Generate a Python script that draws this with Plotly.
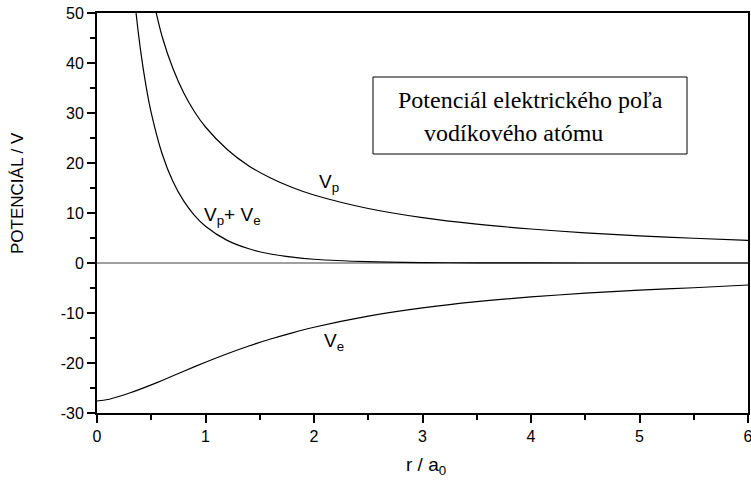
import plotly.graph_objects as go

# r / a0 sample points and potentials (V)
r_p = [0.5, 0.6, 0.7, 0.8, 0.9, 1.0, 1.2, 1.4, 1.6, 1.8, 2.0, 2.5, 3.0, 3.5, 4.0, 4.5, 5.0, 5.5, 6.0]
v_p = [54.4, 45.3, 38.9, 34.0, 30.2, 27.2, 22.7, 19.4, 17.0, 15.1, 13.6, 10.9, 9.07, 7.77, 6.8, 6.04, 5.44, 4.95, 4.53]

r_e = [0.0, 0.1, 0.2, 0.3, 0.4, 0.5, 0.6, 0.8, 1.0, 1.2, 1.4, 1.6, 1.8, 2.0, 2.5, 3.0, 3.5, 4.0, 4.5, 5.0, 5.5, 6.0]
v_e = [-27.6, -27.3, -26.7, -26.0, -25.22, -24.38, -23.49, -21.64, -19.84, -18.14, -16.59, -15.2, -13.96, -12.85,
       -10.62, -8.98, -7.74, -6.79, -6.04, -5.44, -4.95, -4.4]

r_s = [0.3, 0.35, 0.4, 0.45, 0.5, 0.6, 0.7, 0.8, 0.9, 1.0, 1.2, 1.4, 1.6, 1.8, 2.0, 2.5, 3.0, 3.5, 4.0, 5.0, 6.0]
v_s = [64.7, 52.1, 42.78, 35.63, 30.02, 21.85, 16.29, 12.36, 9.49, 7.36, 4.52, 2.84, 1.8, 1.16, 0.75, 0.26, 0.09,
       0.03, 0.011, 0.0015, 0.0002]

zero_x = [0, 6]
zero_y = [0, 0]

x_ticks = [0, 1, 2, 3, 4, 5, 6]
y_ticks = [-30, -20, -10, 0, 10, 20, 30, 40, 50]
y_tick_text = ["-30", "-20", "-10", "0", "10", "20", "30", "40", "50"]

fig = go.Figure()
fig.add_trace(go.Scatter(x=zero_x, y=zero_y, mode="lines", line=dict(color="#808080", width=1.5), hoverinfo="skip"))
for xs, ys in [(r_p, v_p), (r_e, v_e), (r_s, v_s)]:
    fig.add_trace(go.Scatter(x=xs, y=ys, mode="lines", line=dict(color="black", width=1.2, shape="spline", smoothing=0.8)))

sans = "Liberation Sans, Arial, sans-serif"
serif = "Liberation Serif, Times New Roman, serif"

L, R, T, B = 97, 3, 13, 68
W, H = 751, 481
PW, PH = W - L - R, H - T - B

def px(x):
    return (x - L) / PW

def py(y):
    return (H - B - y) / PH

fig.update_layout(
    width=W, height=H,
    margin=dict(l=L, r=R, t=T, b=B),
    paper_bgcolor="white", plot_bgcolor="white",
    showlegend=False,
    font=dict(family=sans, size=16, color="black"),
)
fig.update_xaxes(
    range=[0, 6], tickvals=x_ticks, ticks="outside", ticklen=8, tickwidth=1.5, tickcolor="black",
    showline=True, linewidth=2, linecolor="black", mirror=True, showgrid=False, zeroline=False,
    minor=dict(dtick=0.5, ticks="outside", ticklen=5, tickwidth=1.5, tickcolor="black"),
    tickfont=dict(size=16), automargin=False, ticklabeloverflow="allow",
)
fig.update_yaxes(
    range=[-30, 50], tickvals=y_ticks, ticktext=y_tick_text, ticks="outside", ticklen=8, tickwidth=1.5,
    tickcolor="black",
    showline=True, linewidth=2, linecolor="black", mirror=True, showgrid=False, zeroline=False,
    minor=dict(dtick=5, ticks="outside", ticklen=5, tickwidth=1.5, tickcolor="black"),
    tickfont=dict(size=16), automargin=False, ticklabeloverflow="allow",
)

# axis titles
fig.add_annotation(xref="paper", yref="paper", x=px(18), y=py(193), text="POTENCIÁL / V", textangle=-90,
                   showarrow=False, font=dict(family=sans, size=17), xanchor="center", yanchor="middle")
fig.add_annotation(xref="paper", yref="paper", x=px(426), y=py(466), text="r / a<sub>0</sub>",
                   showarrow=False, font=dict(family=sans, size=19), xanchor="center", yanchor="middle")

# text box
fig.add_shape(type="rect", xref="paper", yref="paper",
              x0=px(373), x1=px(687), y0=py(154), y1=py(77),
              line=dict(color="black", width=1), fillcolor="white")
fig.add_annotation(xref="paper", yref="paper", x=px(530), y=py(100),
                   text="Potenciál elektrického poľa", showarrow=False,
                   font=dict(family=serif, size=24), xanchor="center", yanchor="middle")
fig.add_annotation(xref="paper", yref="paper", x=px(513), y=py(133),
                   text="vodíkového atómu", showarrow=False,
                   font=dict(family=serif, size=24), xanchor="center", yanchor="middle")

lab = dict(family=sans, size=19)
fig.add_annotation(x=2.03, y=16.0, text="V<sub>p</sub>", showarrow=False, xanchor="left", yanchor="middle", font=lab)
fig.add_annotation(x=0.97, y=9.5, text="V<sub>p</sub>+ V<sub>e</sub>", showarrow=False, xanchor="left", yanchor="middle", font=lab)
fig.add_annotation(x=2.07, y=-15.8, text="V<sub>e</sub>", showarrow=False, xanchor="left", yanchor="middle", font=lab)

fig.write_html("out.html", config={"displayModeBar": False},
               post_script="document.body.style.margin='0';document.body.style.overflow='hidden';")
